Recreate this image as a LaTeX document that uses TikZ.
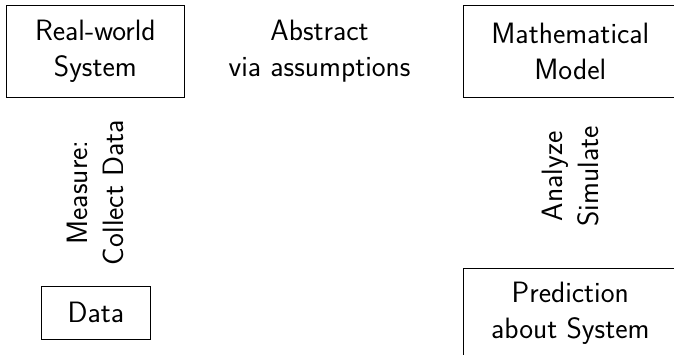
\documentclass[tikz,border=0pt]{standalone}
\usepackage{tikz}

\tikzset{
    stage/.style={draw, align=center, font=\fontsize{18}{22}\selectfont\sffamily},
    note/.style={align=center, font=\fontsize{18}{22}\selectfont\sffamily},
}

\begin{document}
\begin{tikzpicture}
            \useasboundingbox (0,0) rectangle (14.49,7.63);
            \node [stage, minimum width=3.81cm, minimum height=1.96cm]
                (real) at (2.05,6.525) {Real-world\\System};
            \node [note] (abstract) at (6.87,6.525) {Abstract\\via assumptions};
            \node [stage, minimum width=4.6cm, minimum height=1.96cm]
                (model) at (12.26,6.525) {Mathematical\\Model};
            \node [note, rotate=90] (measure) at (2.05,3.49)
                {Measure:\\Collect Data};
            \node [note, rotate=90] (analyze) at (12.26,3.84)
                {Analyze\\Simulate};
            \node [stage, minimum width=2.34cm, minimum height=1.14cm]
                (data) at (2.06,0.91) {Data};
            \node [stage, minimum width=4.6cm, minimum height=1.96cm]
                (predict) at (12.26,0.89) {Prediction\\about System};
        \end{tikzpicture}
\end{document}
